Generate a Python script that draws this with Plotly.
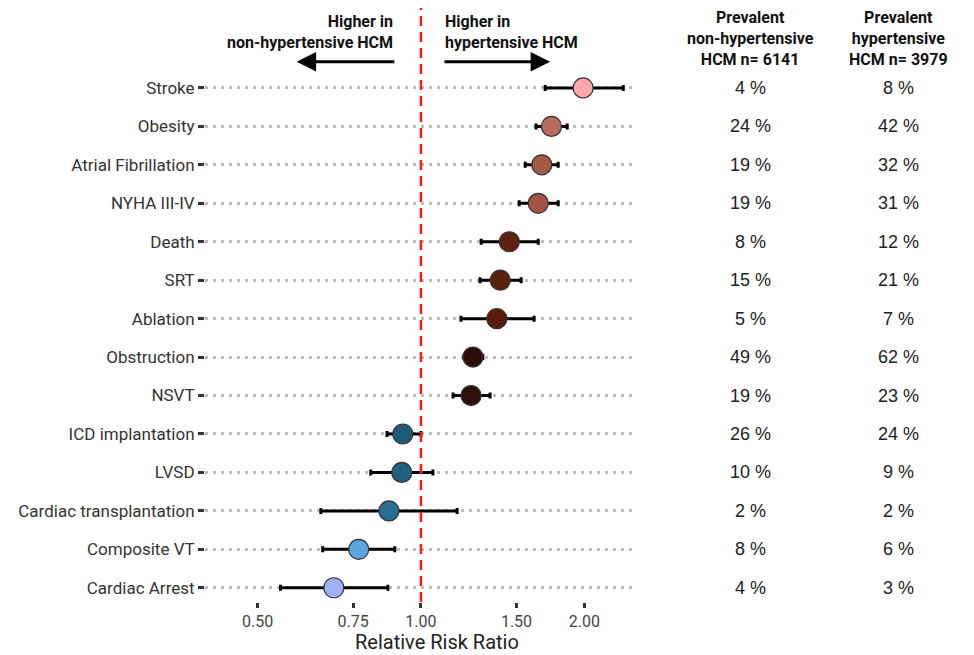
import plotly.graph_objects as go
import numpy as np

categories = ["Stroke", "Obesity", "Atrial Fibrillation", "NYHA III-IV", "Death", "SRT",
              "Ablation", "Obstruction", "NSVT", "ICD implantation", "LVSD",
              "Cardiac transplantation", "Composite VT", "Cardiac Arrest"]
rr = [1.99, 1.74, 1.67, 1.645, 1.455, 1.40, 1.38, 1.247, 1.237, 0.926, 0.922, 0.873, 0.768, 0.691]
rr_lo = [1.694, 1.63, 1.556, 1.517, 1.291, 1.285, 1.185, 1.20, 1.146, 0.866, 0.808, 0.654, 0.659, 0.551]
rr_hi = [2.36, 1.86, 1.79, 1.79, 1.645, 1.53, 1.616, 1.30, 1.341, 1.00, 1.052, 1.166, 0.895, 0.869]
prev_non = ["4 %", "24 %", "19 %", "19 %", "8 %", "15 %", "5 %", "49 %", "19 %", "26 %", "10 %", "2 %", "8 %", "4 %"]
prev_hyp = ["8 %", "42 %", "32 %", "31 %", "12 %", "21 %", "7 %", "62 %", "23 %", "24 %", "9 %", "2 %", "6 %", "3 %"]
colors = ["#F8A8A8", "#B86B5E", "#A55A48", "#A05543", "#5E2010", "#5C200E", "#5A1C0A",
          "#2A0E06", "#2C1008", "#1F5A78", "#22607E", "#2A6E94", "#5EA4E0", "#A0B0F8"]
xticks = [0.5, 0.75, 1.0, 1.5, 2.0]
xtick_labels = ["0.50", "0.75", "1.00", "1.50", "2.00"]

n = len(categories)
ypos = [n - 1 - i for i in range(n)]

fig = go.Figure()
fig.add_trace(go.Scatter(
    x=rr, y=ypos, mode="markers",
    marker=dict(size=20, color=colors, line=dict(color="#333333", width=1.2)),
    error_x=dict(type="data", symmetric=False,
                 array=[h - v for h, v in zip(rr_hi, rr)],
                 arrayminus=[v - l for v, l in zip(rr, rr_lo)],
                 color="black", thickness=3, width=3),
    showlegend=False, hoverinfo="skip"))

# reference line at 1
fig.add_shape(type="line", xref="x", yref="paper", x0=1, x1=1, y0=0, y1=1,
              line=dict(color="#FF1A1A", width=2.5, dash="10px,6px"))

L = np.log10
ann = []
# direction labels
ann.append(dict(x=L(0.897), y=13.88, xref="x", yref="y", text="<b>Higher in<br>non-hypertensive HCM</b>",
                showarrow=False, xanchor="right", yanchor="bottom", align="right",
                font=dict(family="Roboto", size=16, color="#111111")))
ann.append(dict(x=L(1.10), y=13.88, xref="x", yref="y", text="<b>Higher in<br>hypertensive HCM</b>",
                showarrow=False, xanchor="left", yanchor="bottom", align="left",
                font=dict(family="Roboto", size=16, color="#111111")))
# arrows
ann.append(dict(x=L(0.59), y=13.68, ax=L(0.899), ay=13.68, xref="x", yref="y", axref="x", ayref="y",
                text="", showarrow=True, arrowhead=2, arrowsize=1.3, arrowwidth=3, arrowcolor="black"))
ann.append(dict(x=L(1.73), y=13.68, ax=L(1.098), ay=13.68, xref="x", yref="y", axref="x", ayref="y",
                text="", showarrow=True, arrowhead=2, arrowsize=1.3, arrowwidth=3, arrowcolor="black"))

# column headers and values
plot_l, plot_w = 205, 430
def px2paper(px):
    return (px - plot_l) / plot_w

col1, col2 = px2paper(750), px2paper(898)
ann.append(dict(x=col1, y=1, xref="paper", yref="paper", xanchor="center", yanchor="top", yshift=2,
                text="<b>Prevalent<br>non-hypertensive<br>HCM n= 6141</b>", showarrow=False,
                align="center", font=dict(family="Roboto", size=16, color="#111111")))
ann.append(dict(x=col2, y=1, xref="paper", yref="paper", xanchor="center", yanchor="top", yshift=2,
                text="<b>Prevalent<br>hypertensive<br>HCM n= 3979</b>", showarrow=False,
                align="center", font=dict(family="Roboto", size=16, color="#111111")))
for yv, a, b in zip(ypos, prev_non, prev_hyp):
    ann.append(dict(x=col1, y=yv, xref="paper", yref="y", text=a, showarrow=False, xanchor="center",
                    font=dict(family="Liberation Sans", size=18, color="#222222")))
    ann.append(dict(x=col2, y=yv, xref="paper", yref="y", text=b, showarrow=False, xanchor="center",
                    font=dict(family="Liberation Sans", size=18, color="#222222")))

# x-axis title (centred as in the reference)
ann.append(dict(x=px2paper(437), y=0, xref="paper", yref="paper", xanchor="center", yanchor="top",
                yshift=-27, borderpad=0, text="Relative Risk Ratio", showarrow=False,
                font=dict(family="Roboto", size=20, color="#222222")))

fig.update_layout(
    width=974, height=655,
    margin=dict(l=205, r=974 - 635, t=8, b=53),
    plot_bgcolor="white", paper_bgcolor="white",
    font=dict(family="Roboto", size=17, color="#333333"),
    annotations=ann,
    xaxis=dict(type="log", range=[np.log10(0.40), np.log10(2.48)],
               tickvals=xticks, ticktext=xtick_labels, showgrid=False, zeroline=False,
               ticks="outside", ticklen=5, tickwidth=2.5, tickcolor="#333333",
               tickfont=dict(family="Roboto", size=16, color="#444444"),
               showline=False),
    yaxis=dict(range=[-0.37, 15.08], tickvals=ypos, ticktext=categories,
               showgrid=True, gridcolor="#BDBDBD", griddash="3px,5px", gridwidth=2.5,
               zeroline=False, ticks="outside", ticklen=6, tickwidth=2.5, tickcolor="#333333",
               tickfont=dict(family="Roboto", size=17, color="#333333"), showline=False),
)

fig.write_html("out.html")
